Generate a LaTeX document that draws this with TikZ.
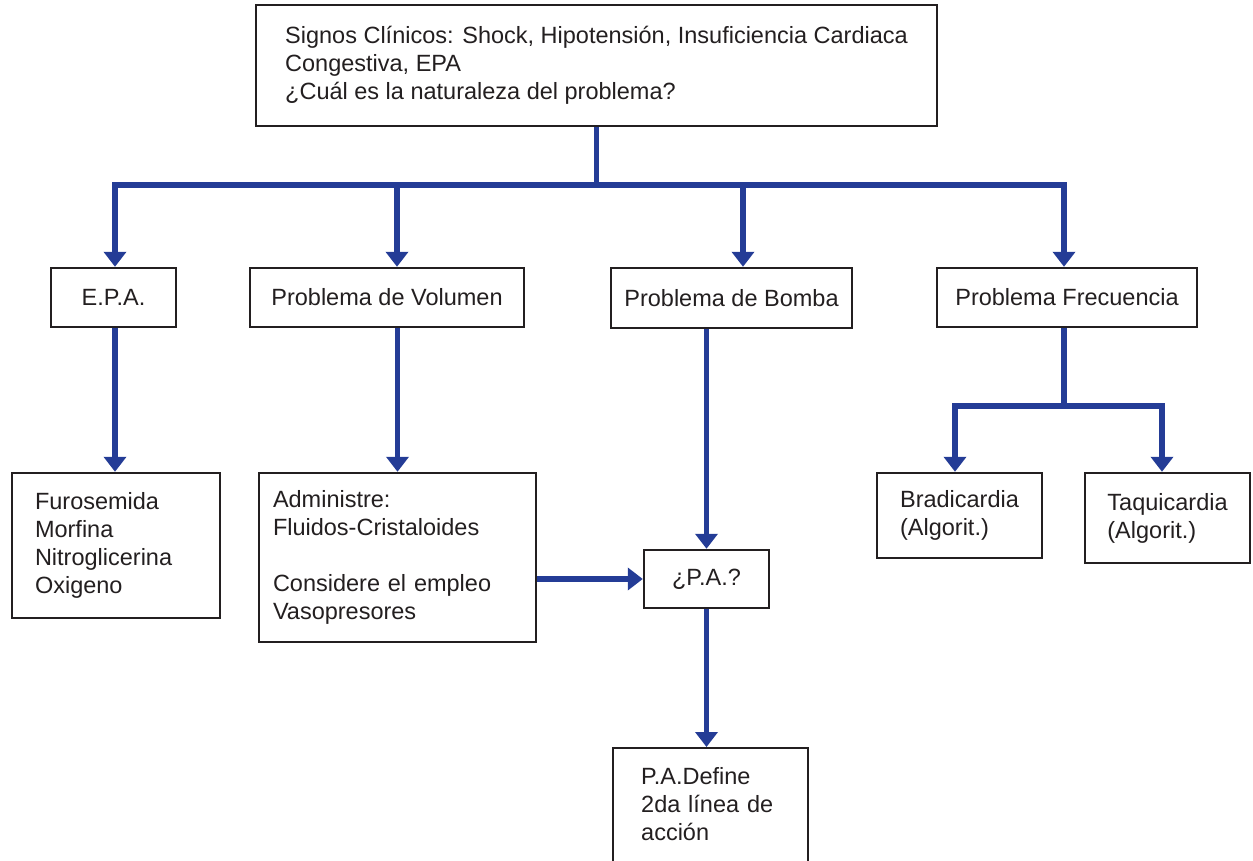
\documentclass[tikz,border=0pt]{standalone}
\usepackage{fontspec}
\setmainfont{Liberation Sans}
\usetikzlibrary{arrows.meta}
\definecolor{flowblue}{RGB}{36,60,150}
\definecolor{inkk}{RGB}{35,31,32}
\begin{document}
\begin{tikzpicture}[x=0.5pt,y=-0.5pt,
  box/.style={draw=inkk, line width=1.2pt, fill=white, text=inkk, inner xsep=4pt, inner ysep=2pt,
    font=\fontsize{11.75}{14}\selectfont},
  link/.style={draw=flowblue, line width=2.7pt},
  arr/.style={link, -{Triangle[width=11pt,length=7.5pt]}}]
\useasboundingbox (0,0) rectangle (1253,861);

\node[box, minimum width=340.5pt, minimum height=60.5pt, align=left] (top) at (596.5,65.5)
  {Signos Clínicos: Shock, Hipotensión, Insuficiencia Cardiaca\\Congestiva, EPA\\¿Cuál es la naturaleza del problema?};

\node[box, minimum width=62.5pt, minimum height=29.5pt] (epa) at (113.5,297.5) {E.P.A.};
\node[box, minimum width=137pt, minimum height=29.5pt] (vol) at (387,297.5) {Problema de Volumen};
\node[box, minimum width=120.5pt, minimum height=30pt] (bom) at (731.5,298) {Problema de Bomba};
\node[box, minimum width=130pt, minimum height=29.5pt] (frec) at (1067,297.5) {Problema Frecuencia};

\node[box, minimum height=72.5pt, inner xsep=11.5pt, text width=81pt, align=left] (furo) at (116,545.5)
  {Furosemida\\Morfina\\Nitroglicerina\\Oxigeno};
\node[box, minimum height=84.5pt, inner xsep=7pt, text width=124.5pt, align=left] (adm) at (397.5,557.5)
  {Administre:\\Fluidos-Cristaloides\\[14pt]Considere el empleo\\Vasopresores};
\node[box, minimum width=62.5pt, minimum height=29pt] (pa) at (706.5,579) {¿P.A.?};
\node[box, anchor=north west, inner xsep=14pt, inner ysep=0pt, text width=69.5pt, align=left,
  text height=18pt, text depth=55pt] (pad) at (612,747)
  {P.A.Define\\2da línea de\\acción};

\node[box, minimum width=82.5pt, minimum height=42.5pt, align=left] (brad) at (959.5,515.5)
  {Bradicardia\\(Algorit.)};
\node[box, minimum width=82.5pt, minimum height=45pt, align=left] (taq) at (1167.5,518)
  {Taquicardia\\(Algorit.)};

% main bus
\coordinate (b1) at (115,185);
\coordinate (b2) at (397,185);
\coordinate (b3) at (743,185);
\coordinate (b4) at (1064,185);
\draw[link] (top.south) -- (top.south |- b1);
\draw[link] (b2) -- (b3);
\draw[arr] (b2) -- (b1) -- (b1 |- epa.north);
\draw[arr] (b3) -- (b4) -- (b4 |- frec.north);
\draw[arr] (b2) -- (b2 |- vol.north);
\draw[arr] (b3) -- (b3 |- bom.north);

% second level
\draw[arr] (epa.south -| b1) -- (b1 |- furo.north);
\draw[arr] (vol.south -| adm.north) -- (adm.north);
\draw[arr] (bom.south -| pa.north) -- (pa.north);
\draw[arr] (adm.east |- pa.west) -- (pa.west);
\draw[arr] (pa.south) -- (pa.south |- pad.north);

% frequency split
\coordinate (fj) at (1064,406);
\coordinate (fl) at (955,406);
\coordinate (fr) at (1162,406);
\draw[link] (frec.south -| fj) -- (fj);
\draw[arr] (fj) -- (fl) -- (fl |- brad.north);
\draw[arr] (fj) -- (fr) -- (fr |- taq.north);
\end{tikzpicture}
\end{document}
